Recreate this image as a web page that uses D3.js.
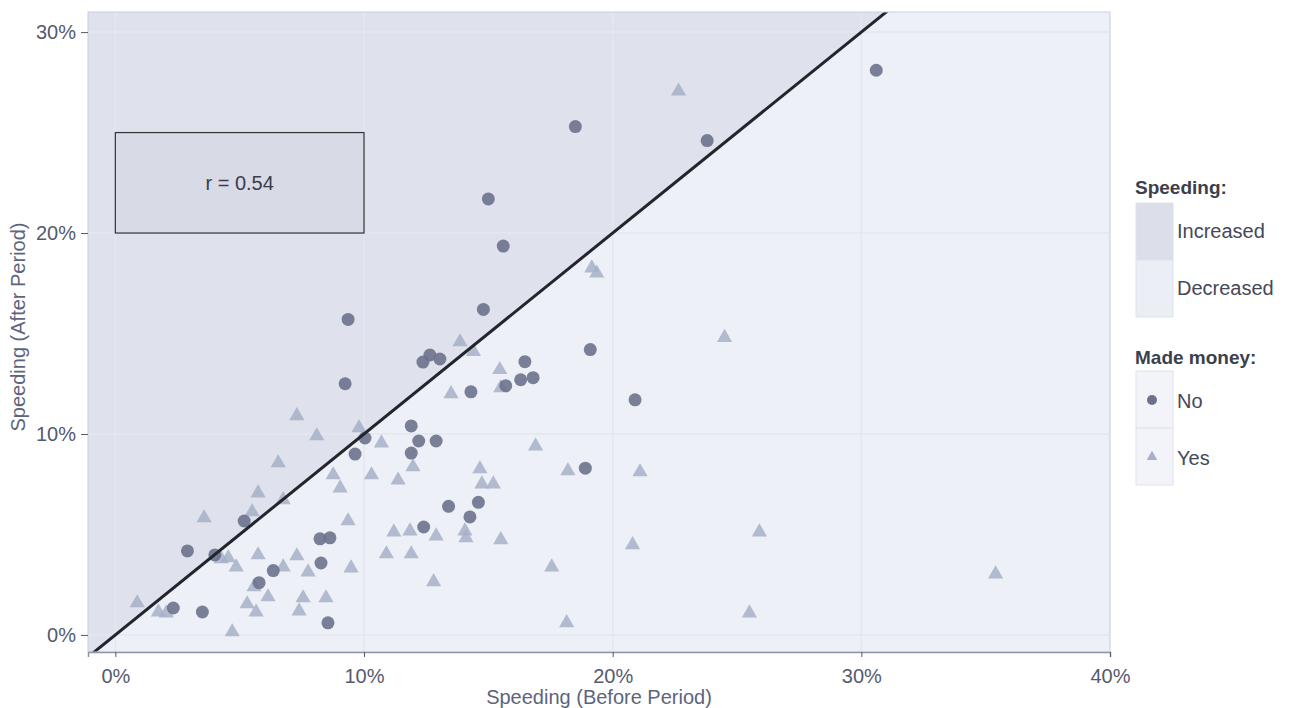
<!DOCTYPE html>
<html>
<head>
<meta charset="utf-8">
<script src="https://cdnjs.cloudflare.com/ajax/libs/d3/7.8.5/d3.min.js"></script>
<style>
  body { margin: 0; background: #ffffff; }
  text { font-family: "Liberation Sans", Arial, sans-serif; }
</style>
</head>
<body>
<div id="chart"></div>
<script>
// "Made money: No" points [before %, after %]
var noPoints = [
  [30.6, 28.1], [18.5, 25.3], [23.8, 24.6], [15.0, 21.7], [15.6, 19.35],
  [9.36, 15.7], [14.8, 16.2], [9.24, 12.5], [12.37, 13.58], [12.65, 13.93],
  [13.05, 13.73], [19.1, 14.2], [16.47, 13.6], [16.3, 12.7], [16.8, 12.8],
  [15.7, 12.4], [14.3, 12.1], [20.9, 11.7], [11.9, 10.4], [12.2, 9.65],
  [12.9, 9.65], [11.9, 9.05], [18.9, 8.3], [13.4, 6.4], [14.6, 6.6],
  [14.26, 5.87], [12.4, 5.37], [9.64, 9.0], [10.04, 9.8], [5.18, 5.67],
  [2.9, 4.18], [4.0, 3.98], [8.23, 4.78], [8.63, 4.83], [8.27, 3.58],
  [6.35, 3.2], [5.78, 2.6], [2.33, 1.34], [3.5, 1.14], [8.55, 0.6]
];

// "Made money: Yes" points
var yesPoints = [
  [22.65, 27.06], [19.16, 18.26], [19.36, 18.0], [24.5, 14.8], [13.86, 14.58],
  [14.4, 14.1], [15.46, 13.2], [15.5, 12.3], [13.5, 12.0], [7.3, 10.9],
  [8.1, 9.9], [9.8, 10.3], [10.7, 9.55], [16.9, 9.4], [11.97, 8.36],
  [11.37, 7.7], [14.66, 8.26], [14.74, 7.51], [15.2, 7.51], [18.2, 8.16],
  [21.1, 8.11], [6.55, 8.56], [8.76, 7.96], [10.3, 7.96], [9.04, 7.31],
  [5.74, 7.06], [6.75, 6.72], [5.5, 6.12], [3.57, 5.82], [9.36, 5.67],
  [11.2, 5.12], [11.85, 5.17], [12.9, 4.92], [14.06, 5.17], [14.1, 4.83],
  [15.5, 4.73], [10.9, 4.03], [11.9, 4.03], [12.8, 2.64], [17.55, 3.38],
  [18.15, 0.6], [20.8, 4.48], [25.9, 5.12], [25.5, 1.09], [35.4, 3.03],
  [5.74, 3.98], [7.3, 3.93], [4.26, 3.78], [4.54, 3.83], [4.86, 3.38],
  [6.75, 3.38], [7.75, 3.13], [9.48, 3.33], [5.58, 2.39], [6.14, 1.89],
  [7.55, 1.84], [8.47, 1.84], [0.88, 1.59], [1.73, 1.14], [2.05, 1.09],
  [5.3, 1.54], [5.66, 1.14], [7.39, 1.19], [4.7, 0.15]
];

var xTicks = [0, 10, 20, 30, 40];
var yTicks = [0, 10, 20, 30];
var rBox = [0, 20, 10, 25]; // x0, y0, x1, y1 of the label box
var rLabel = "r = 0.54";
var speedingKeys = ["Increased", "Decreased"];
var moneyKeys = ["No", "Yes"];

function init() {
  var w = 1290;
  var h = 708;
  var left = 88, right = 1110, top = 12, bottom = 652;

  var xScale = d3.scaleLinear().domain([-1.1, 40]).range([left, right]);
  var yScale = d3.scaleLinear().domain([-0.85, 31]).range([bottom, top]);

  var svg = d3.select("#chart")
    .append("svg")
    .attr("width", w)
    .attr("height", h);

  svg.append("clipPath")
    .attr("id", "panel")
    .append("rect")
    .attr("x", left)
    .attr("y", top)
    .attr("width", right - left)
    .attr("height", bottom - top);

  var panel = svg.append("g").attr("clip-path", "url(#panel)");

  // decreased (below the diagonal)
  panel.append("rect")
    .attr("x", left)
    .attr("y", top)
    .attr("width", right - left)
    .attr("height", bottom - top)
    .attr("fill", "#eef0f7");

  // increased (above the diagonal)
  var upper = [[-2, -2], [40, 40], [-2, 40]];
  panel.append("path")
    .attr("d", d3.line()
      .x(function(d) { return xScale(d[0]); })
      .y(function(d) { return yScale(d[1]); })(upper) + "Z")
    .attr("fill", "#dfe1ec");

  // grid
  panel.selectAll(".gx")
    .data(xTicks)
    .enter()
    .append("line")
    .attr("x1", function(d) { return xScale(d); })
    .attr("x2", function(d) { return xScale(d); })
    .attr("y1", top)
    .attr("y2", bottom)
    .attr("stroke", "#e4e7f1")
    .attr("stroke-width", 1.5);
  panel.selectAll(".gy")
    .data(yTicks)
    .enter()
    .append("line")
    .attr("x1", left)
    .attr("x2", right)
    .attr("y1", function(d) { return yScale(d); })
    .attr("y2", function(d) { return yScale(d); })
    .attr("stroke", "#e4e7f1")
    .attr("stroke-width", 1.5);

  // r box
  panel.append("rect")
    .attr("x", xScale(rBox[0]))
    .attr("y", yScale(rBox[3]))
    .attr("width", xScale(rBox[2]) - xScale(rBox[0]))
    .attr("height", yScale(rBox[1]) - yScale(rBox[3]))
    .attr("fill", "#d8dae6")
    .attr("stroke", "#333333")
    .attr("stroke-width", 1.2);
  panel.append("text")
    .attr("x", xScale((rBox[0] + rBox[2]) / 2))
    .attr("y", yScale((rBox[1] + rBox[3]) / 2))
    .attr("dy", "0.35em")
    .attr("text-anchor", "middle")
    .attr("font-size", 20)
    .attr("fill", "#3a3d4a")
    .text(rLabel);

  // points
  var tri = d3.symbol().type(d3.symbolTriangle).size(100);
  panel.selectAll(".yes")
    .data(yesPoints)
    .enter()
    .append("path")
    .attr("d", tri)
    .attr("transform", function(d) {
      return "translate(" + xScale(d[0]) + "," + yScale(d[1]) + ")";
    })
    .attr("fill", "#a6b0c7")
    .attr("opacity", 0.85);

  panel.selectAll(".no")
    .data(noPoints)
    .enter()
    .append("circle")
    .attr("cx", function(d) { return xScale(d[0]); })
    .attr("cy", function(d) { return yScale(d[1]); })
    .attr("r", 6.5)
    .attr("fill", "#6b728c")
    .attr("opacity", 0.9);

  // diagonal y = x
  panel.append("line")
    .attr("x1", xScale(-2))
    .attr("y1", yScale(-2))
    .attr("x2", xScale(40))
    .attr("y2", yScale(40))
    .attr("stroke", "#23252d")
    .attr("stroke-width", 3);

  // panel border
  svg.append("rect")
    .attr("x", left)
    .attr("y", top)
    .attr("width", right - left)
    .attr("height", bottom - top)
    .attr("fill", "none")
    .attr("stroke", "#c9cee4")
    .attr("stroke-width", 1);

  var xAxis = d3.axisBottom(xScale)
    .tickValues(xTicks)
    .tickSize(5)
    .tickPadding(12)
    .tickFormat(function(d) { return d + "%"; });
  var yAxis = d3.axisLeft(yScale)
    .tickValues(yTicks)
    .tickSize(7)
    .tickPadding(5)
    .tickFormat(function(d) { return d + "%"; });

  var gx = svg.append("g")
    .attr("class", "axis")
    .attr("transform", "translate(0," + bottom + ")")
    .call(xAxis);
  var gy = svg.append("g")
    .attr("class", "axis")
    .attr("transform", "translate(" + left + ",0)")
    .call(yAxis);

  gx.select(".domain").attr("stroke", "#8e94ab").attr("stroke-width", 1.5);
  gy.select(".domain").remove();
  svg.selectAll(".axis .tick line").attr("stroke", "#555a6a");
  svg.selectAll(".axis .tick text")
    .attr("font-size", 20)
    .attr("font-family", "'Liberation Sans', Arial, sans-serif")
    .attr("fill", "#555a6e");

  svg.append("text")
    .attr("x", (left + right) / 2 + 0)
    .attr("y", 704)
    .attr("text-anchor", "middle")
    .attr("font-size", 20)
    .attr("fill", "#5d647e")
    .text("Speeding (Before Period)");
  svg.append("text")
    .attr("transform", "translate(25,327) rotate(-90)")
    .attr("text-anchor", "middle")
    .attr("font-size", 20)
    .attr("fill", "#5d647e")
    .text("Speeding (After Period)");

  // legend: speeding
  var lx = 1135;
  svg.append("text")
    .attr("x", lx)
    .attr("y", 194)
    .attr("font-size", 19)
    .attr("font-weight", "bold")
    .attr("fill", "#3c3f4c")
    .text("Speeding:");
  var keyFill = ["#dcdee9", "#eceef5"];
  svg.selectAll(".skey")
    .data(speedingKeys)
    .enter()
    .append("rect")
    .attr("x", lx + 1)
    .attr("y", function(d, i) { return 203 + i * 57; })
    .attr("width", 37)
    .attr("height", 57)
    .attr("fill", function(d, i) { return keyFill[i]; })
    .attr("stroke", "#dfe1ec");
  svg.selectAll(".slab")
    .data(speedingKeys)
    .enter()
    .append("text")
    .attr("x", lx + 42)
    .attr("y", function(d, i) { return 231 + i * 57; })
    .attr("dy", "0.35em")
    .attr("font-size", 20)
    .attr("fill", "#454859")
    .text(function(d) { return d; });

  // legend: made money
  svg.append("text")
    .attr("x", lx)
    .attr("y", 364)
    .attr("font-size", 19)
    .attr("font-weight", "bold")
    .attr("fill", "#3c3f4c")
    .text("Made money:");
  svg.selectAll(".mkey")
    .data(moneyKeys)
    .enter()
    .append("rect")
    .attr("x", lx + 1)
    .attr("y", function(d, i) { return 371 + i * 57; })
    .attr("width", 37)
    .attr("height", 57)
    .attr("fill", "#f3f4f9")
    .attr("stroke", "#e0e2ec");
  svg.append("circle")
    .attr("cx", lx + 17)
    .attr("cy", 400)
    .attr("r", 5)
    .attr("fill", "#6b728c");
  svg.append("path")
    .attr("d", d3.symbol().type(d3.symbolTriangle).size(50)())
    .attr("transform", "translate(" + (lx + 17) + ",457)")
    .attr("fill", "#a6b0c7");
  svg.selectAll(".mlab")
    .data(moneyKeys)
    .enter()
    .append("text")
    .attr("x", lx + 42)
    .attr("y", function(d, i) { return 401 + i * 57; })
    .attr("dy", "0.35em")
    .attr("font-size", 20)
    .attr("fill", "#454859")
    .text(function(d) { return d; });
}

window.onload = init;
</script>
</body>
</html>
